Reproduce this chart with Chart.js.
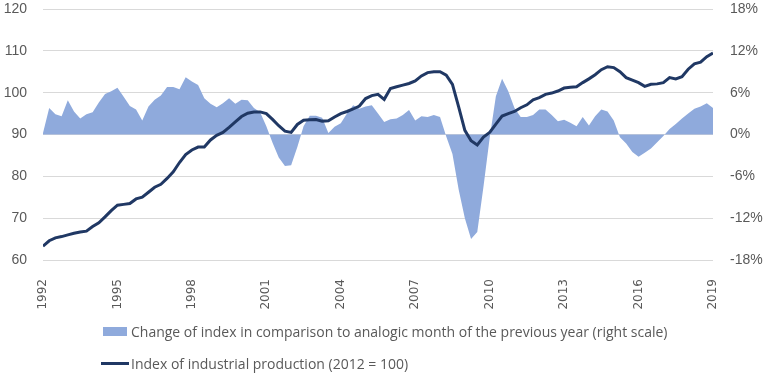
<!DOCTYPE html>
<html lang="en">
<head>
    <meta charset="UTF-8">
    <title>Index of industrial production</title>
    <script src="https://cdn.jsdelivr.net/npm/chart.js"></script>
    <style>
        body {
            margin: 0;
            padding: 0;
            background: #fff;
        }

        #wrap {
            position: relative;
            width: 764px;
            height: 385px;
        }

        .legend-row {
            position: absolute;
            left: 101px;
            height: 20px;
            display: flex;
            align-items: center;
            font-family: 'Open Sans', sans-serif;
            font-size: 14px;
            color: #595959;
            white-space: nowrap;
        }

        .swatch-area {
            width: 24px;
            height: 9px;
            margin-left: 2px;
            margin-right: 4px;
            background: #8faadc;
        }

        .swatch-line {
            width: 28px;
            height: 3px;
            margin-right: 2px;
            background: #203864;
        }
    </style>
</head>
<body>
<div id="wrap">
    <canvas id="myChart" width="764" height="385"></canvas>
    <div class="legend-row" style="top: 321px;">
        <div class="swatch-area"></div>
        <span id="lab1"></span>
    </div>
    <div class="legend-row" style="top: 353px;">
        <div class="swatch-line"></div>
        <span id="lab2"></span>
    </div>
</div>

<script>
    // quarterly readings, 1992 Q1 .. 2019 Q1
    const startYear = 1992;
    const yearTicks = [1992, 1995, 1998, 2001, 2004, 2007, 2010, 2013, 2016, 2019];
    const indexLabel = 'Index of industrial production (2012 = 100)';
    const changeLabel = 'Change of index in comparison to analogic month of the previous year (right scale)';

    // index of industrial production (left scale)
    const indexValues = [
        63.3, 64.6, 65.3, 65.6,      // 1992
        66.0, 66.4, 66.7, 66.9,      // 1993
        68.0, 68.9, 70.3, 71.8,      // 1994
        73.1, 73.3, 73.5, 74.6,      // 1995
        75.0, 76.2, 77.4, 78.1,      // 1996
        79.5, 81.1, 83.3, 85.2,      // 1997
        86.3, 87.0, 87.0, 88.7,      // 1998
        89.8, 90.5, 91.7, 93.0,      // 1999
        94.3, 95.1, 95.4, 95.4,      // 2000
        95.0, 93.6, 92.1, 90.8,      // 2001
        90.5, 92.4, 93.4, 93.5,      // 2002
        93.6, 93.2, 93.3, 94.2,      // 2003
        95.0, 95.5, 96.1, 96.8,      // 2004
        98.6, 99.3, 99.6, 98.4,      // 2005
        101.0, 101.4, 101.8, 102.2,  // 2006
        102.8, 104.0, 104.8, 105.0,  // 2007
        105.0, 104.2, 102.0, 96.6,   // 2008
        91.0, 88.5, 87.5, 89.4,      // 2009
        90.5, 92.5, 94.4, 95.0,      // 2010
        95.5, 96.4, 97.1, 98.3,      // 2011
        98.8, 99.6, 99.9, 100.4,     // 2012
        101.1, 101.3, 101.4, 102.4,  // 2013
        103.3, 104.3, 105.5, 106.2,  // 2014
        106.0, 105.0, 103.6, 103.0,  // 2015
        102.4, 101.5, 102.0, 102.1,  // 2016
        102.4, 103.6, 103.3, 103.8,  // 2017
        105.6, 106.9, 107.3, 108.6,  // 2018
        109.5                        // 2019
    ];

    // year-on-year change in % (right scale)
    const changeValues = [
        0.2, 3.8, 2.9, 2.6,          // 1992
        4.9, 3.3, 2.3, 2.9,          // 1993
        3.2, 4.6, 5.8, 6.2,          // 1994
        6.7, 5.4, 4.1, 3.6,          // 1995
        2.0, 4.0, 5.0, 5.6,          // 1996
        6.8, 6.8, 6.5, 8.2,          // 1997
        7.6, 7.1, 5.2, 4.4,          // 1998
        3.9, 4.5, 5.2, 4.4,          // 1999
        5.0, 4.9, 3.8, 3.2,          // 2000
        1.2, -1.2, -3.3, -4.5,       // 2001
        -4.4, -1.8, 1.2, 2.7,        // 2002
        2.7, 2.4, 0.2, 1.1,          // 2003
        1.6, 3.0, 4.2, 3.7,          // 2004
        4.0, 4.2, 3.0, 1.8,          // 2005
        2.2, 2.3, 2.8, 3.5,          // 2006
        2.0, 2.6, 2.5, 2.8,          // 2007
        2.5, -0.3, -2.8, -7.9,       // 2008
        -12.0, -15.0, -14.0, -7.5,   // 2009
        -0.5, 5.5, 8.0, 6.2,         // 2010
        3.8, 2.5, 2.5, 2.8,          // 2011
        3.6, 3.6, 2.8, 1.9,          // 2012
        2.1, 1.7, 1.2, 2.5,          // 2013
        1.3, 2.6, 3.6, 3.3,          // 2014
        2.0, -0.4, -1.3, -2.5,       // 2015
        -3.2, -2.6, -2.0, -1.1,      // 2016
        -0.2, 0.8, 1.5, 2.3,         // 2017
        3.0, 3.7, 4.0, 4.5,          // 2018
        3.8                          // 2019
    ];

    const toPoints = arr => arr.map((v, i) => ({ x: startYear + i / 4, y: v }));

    document.getElementById('lab1').textContent = changeLabel;
    document.getElementById('lab2').textContent = indexLabel;

    const gray = '#595959';
    const gridColor = '#d9d9d9';

    // keep the axes from asking the layout for extra room above the plot
    function noPad(axis) {
        axis.paddingTop = 0;
        axis.paddingBottom = 0;
    }

    var ctx = document.getElementById('myChart').getContext('2d');
    var myChart = new Chart(ctx, {
        type: 'line',
        data: {
            datasets: [
                {
                    label: indexLabel,
                    data: toPoints(indexValues),
                    yAxisID: 'y',
                    borderColor: '#203864',
                    borderWidth: 3,
                    pointRadius: 0,
                    tension: 0,
                    fill: false,
                    order: 1
                },
                {
                    label: changeLabel,
                    data: toPoints(changeValues),
                    yAxisID: 'y2',
                    borderWidth: 0,
                    backgroundColor: '#8faadc',
                    pointRadius: 0,
                    tension: 0,
                    fill: 'origin',
                    order: 2
                }
            ]
        },
        options: {
            responsive: false,
            animation: false,
            layout: {
                padding: { top: 9, left: 0, right: 0, bottom: 0 }
            },
            plugins: {
                legend: { display: false },
                tooltip: { enabled: false }
            },
            scales: {
                x: {
                    type: 'linear',
                    min: 1992,
                    max: 2019,
                    afterBuildTicks: axis => {
                        axis.ticks = yearTicks.map(v => ({ value: v }));
                    },
                    afterFit: axis => { axis.height = 125; noPad(axis); },
                    grid: { display: false },
                    border: { display: false },
                    ticks: {
                        minRotation: 90,
                        maxRotation: 90,
                        padding: 11,
                        color: gray,
                        font: { family: 'DejaVu Sans', size: 12 },
                        callback: v => String(v)
                    }
                },
                y: {
                    position: 'left',
                    min: 60,
                    max: 120,
                    afterFit: axis => { axis.width = 43; noPad(axis); },
                    grid: { color: gridColor, drawTicks: false },
                    border: { display: false },
                    ticks: {
                        stepSize: 10,
                        padding: 16,
                        color: gray,
                        font: { family: 'Liberation Sans', size: 14 }
                    }
                },
                y2: {
                    position: 'right',
                    min: -18,
                    max: 18,
                    afterFit: axis => { axis.width = 51; noPad(axis); },
                    grid: { display: false, drawTicks: false },
                    border: { display: false },
                    ticks: {
                        stepSize: 6,
                        padding: 17,
                        color: gray,
                        font: { family: 'Liberation Sans', size: 14 },
                        callback: v => v + '%'
                    }
                }
            }
        }
    });
</script>
</body>
</html>
